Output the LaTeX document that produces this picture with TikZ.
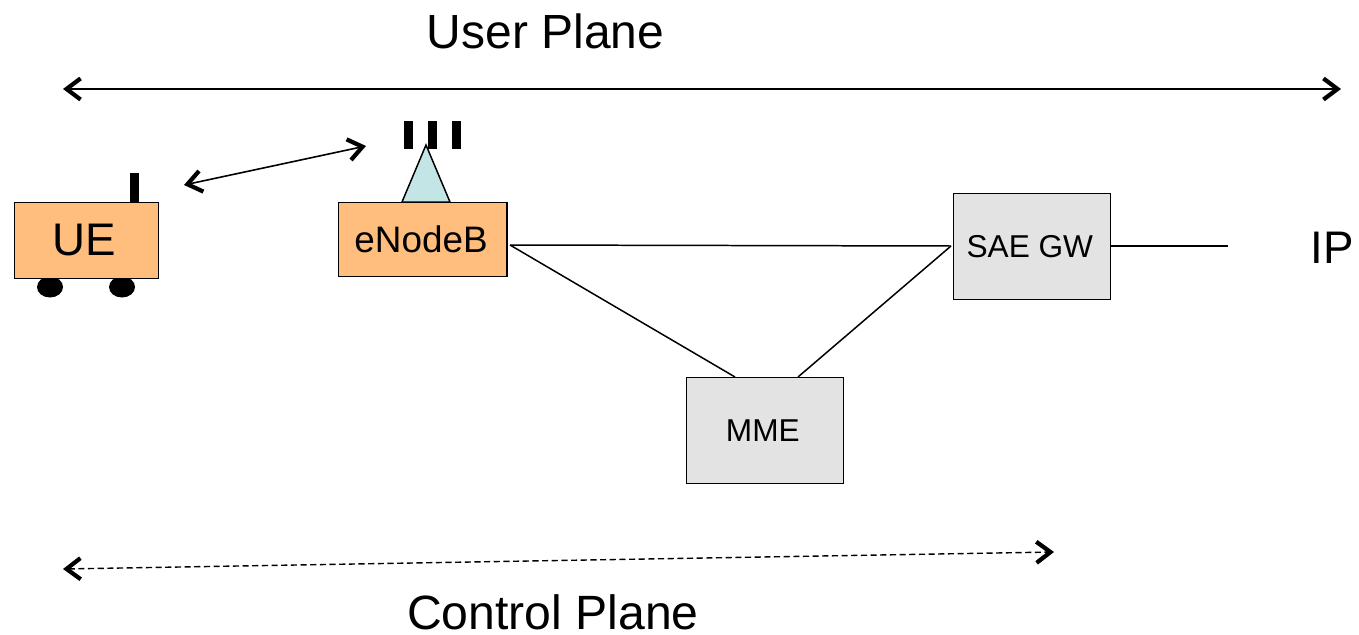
\documentclass[tikz,border=0pt]{standalone}
\usepackage{fontspec}
\setmainfont{Liberation Sans}
\usetikzlibrary{arrows.meta,shapes.geometric}
\definecolor{boxorange}{HTML}{FFBE7D}
\definecolor{boxgrey}{HTML}{E3E3E3}
\definecolor{mastcyan}{HTML}{C4E5E6}
\begin{document}
\begin{tikzpicture}[x=0.02cm,y=-0.02cm,
        >={Straight Barb[length=8pt,width=12pt,line width=2.4pt 0 0]},
        box/.style={draw=black,line width=0.95pt,inner sep=0pt,anchor=north west},
        orangebox/.style={box,fill=boxorange},
        greybox/.style={box,fill=boxgrey},
        bar/.style={fill=black,inner sep=0pt,minimum width=9*0.02cm,anchor=north},
        wheel/.style={ellipse,fill=black,inner sep=0pt,minimum width=26*0.02cm,minimum height=21*0.02cm},
        planelabel/.style={inner sep=0pt},
        link/.style={line width=0.85pt}]
\useasboundingbox (0,0) rectangle (1359,635);

\node[planelabel] (userlabel) at (545.5,31) {\fontsize{27.3}{27.3}\selectfont User Plane};
\node[planelabel] (controllabel) at (553,612) {\fontsize{27.4}{27.4}\selectfont Control Plane};
\node[planelabel] (iplabel) at (1332,248) {\fontsize{26}{26}\selectfont IP};

\coordinate (userleft) at (63,89);
\coordinate (userright) at (1341,89);
\draw[<->,line width=1.2pt] (userleft) -- (userright);

\coordinate (controlleft) at (63,569);
\coordinate (controlright) at (1054,552);
\draw[<->,line width=0.8pt,dash pattern=on 3.5pt off 2pt] (controlleft) -- (controlright);

% ue
\node[bar,minimum height=29*0.02cm] (ueant) at (134,173) {};
\node[wheel] (wheelleft) at (50,287) {};
\node[wheel] (wheelright) at (122,287) {};
\node[orangebox,minimum width=144*0.02cm,minimum height=76*0.02cm] (ue) at (13.5,201.5) {\fontsize{26}{26}\selectfont UE\hspace*{0.08cm}};

% enodeb
\node[bar,minimum height=28*0.02cm] (antone) at (408,121) {};
\node[bar,minimum height=28*0.02cm] (anttwo) at (432,121) {};
\node[bar,minimum height=28*0.02cm] (antthree) at (456,121) {};
\filldraw[fill=mastcyan,draw=black,line width=0.85pt] (402,202) -- (426,145) -- (450,202) -- cycle;
\node[orangebox,minimum width=168.5*0.02cm,minimum height=74*0.02cm] (enodeb) at (337.5,201.5) {\fontsize{21}{21}\selectfont eNodeB\hspace*{0.06cm}};

\coordinate (radioue) at (184,185);
\coordinate (radioenb) at (366,146);
\draw[<->,line width=0.9pt] (radioue) -- (radioenb);

\node[greybox,minimum width=157*0.02cm,minimum height=106*0.02cm] (saegw) at (952.5,192.5) {\fontsize{18}{18}\selectfont SAE GW\hspace*{0.08cm}};
\node[greybox,minimum width=157*0.02cm,minimum height=106*0.02cm] (mme) at (685.5,376.5) {\raisebox{-0.04cm}{\fontsize{18}{18}\selectfont MME}\hspace*{0.08cm}};

\coordinate (enbport) at (510,245);
\coordinate (saeport) at (951,246);
\coordinate (mmeleft) at (735,377);
\coordinate (mmeright) at (798,377);
\coordinate (ipend) at (1228,246);
\draw[link] (enbport) -- (saeport);
\draw[link] (enbport) -- (mmeleft);
\draw[link] (saeport) -- (mmeright);
\draw[link] (saegw.east |- ipend) -- (ipend);

\end{tikzpicture}
\end{document}
